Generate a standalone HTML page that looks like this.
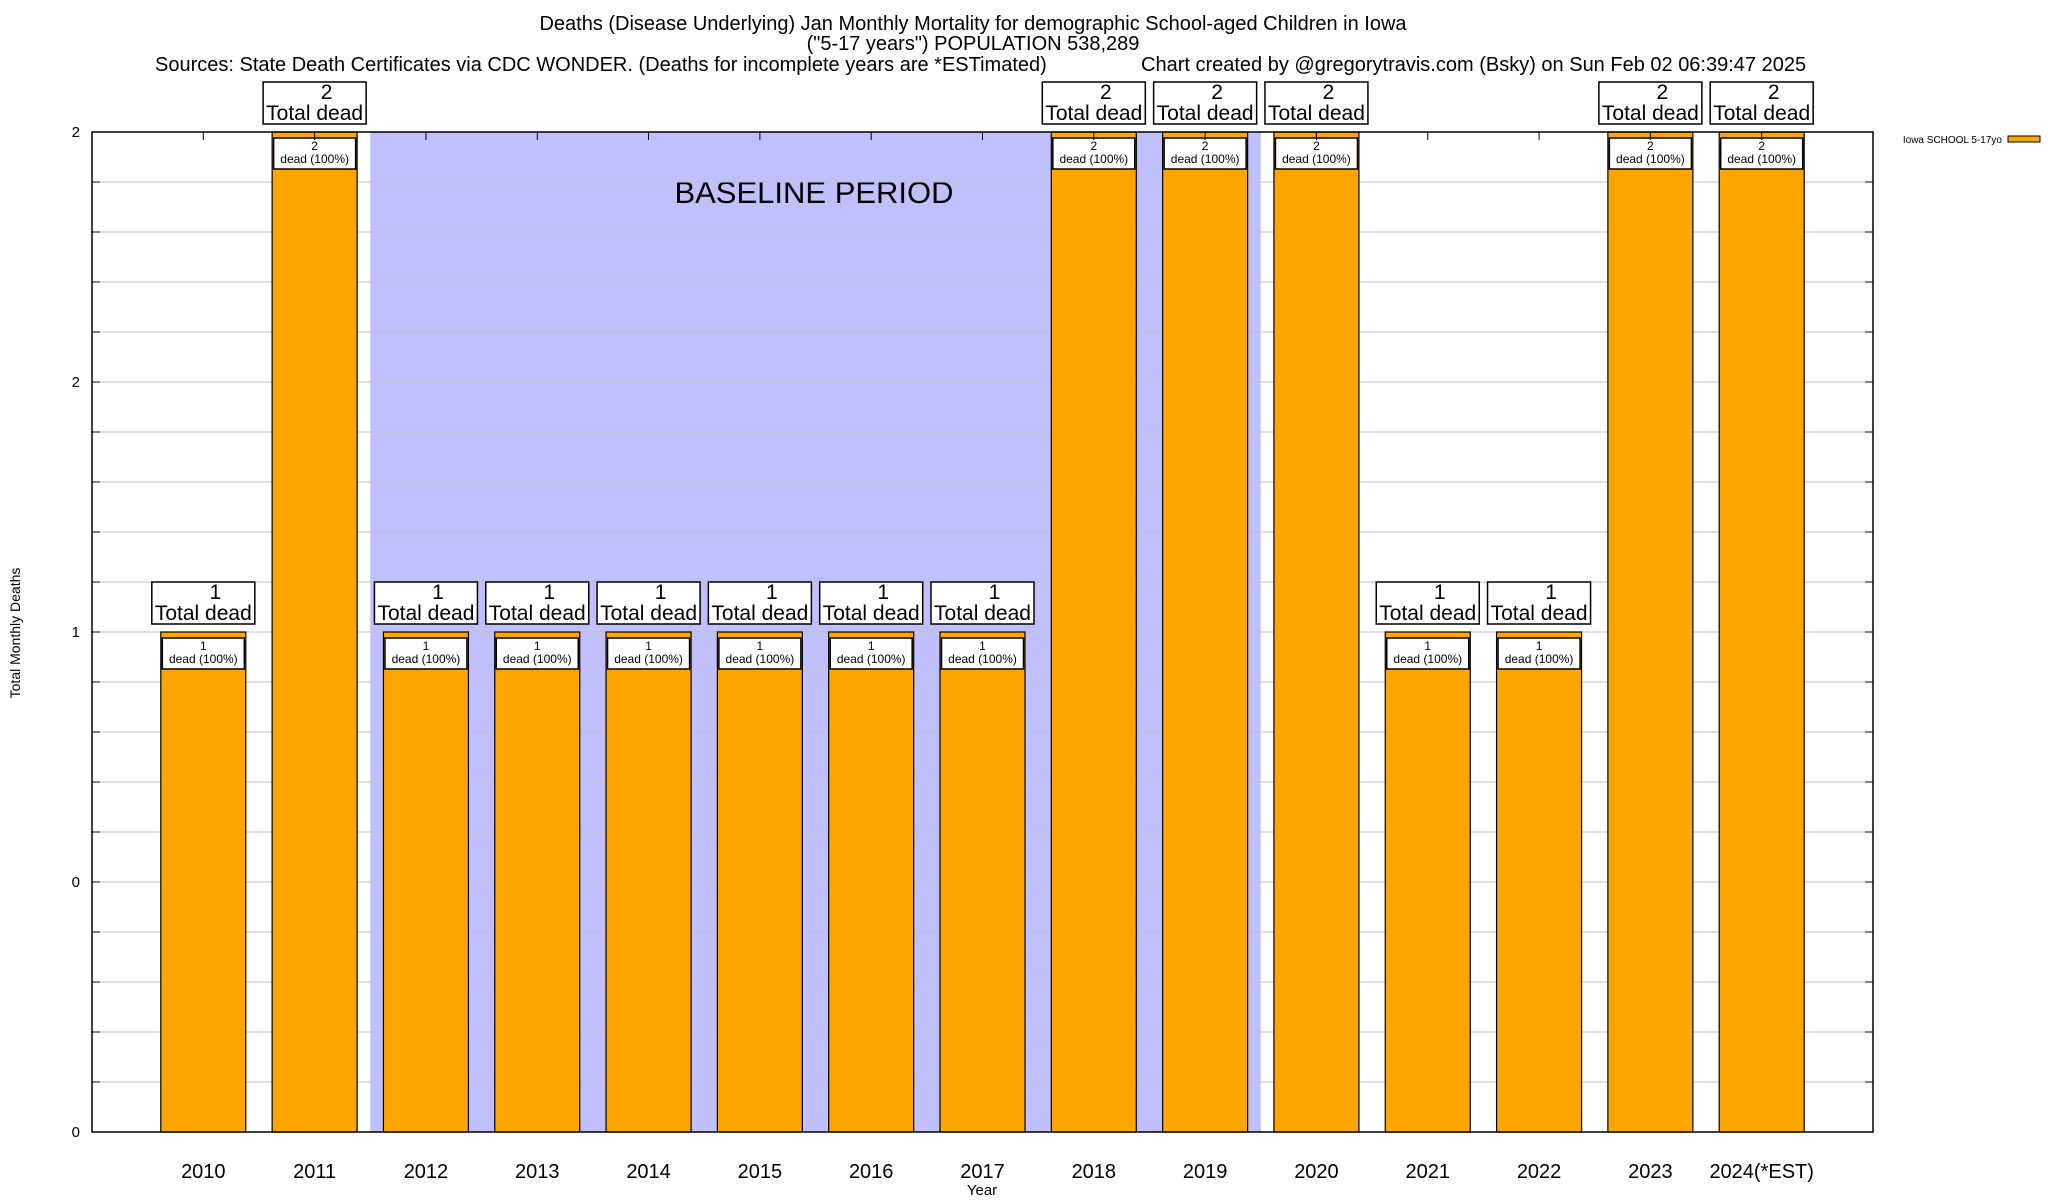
<!DOCTYPE html>
<html><head><meta charset="utf-8"><style>
body{margin:0;background:#fff;}
svg{display:block;font-family:"Liberation Sans",sans-serif;}
</style></head><body>
<svg id="chart" width="2048" height="1200" viewBox="0 0 2048 1200" xmlns="http://www.w3.org/2000/svg">
<text x="973" y="30" font-size="20" text-anchor="middle">Deaths (Disease Underlying) Jan Monthly Mortality for demographic School-aged Children in Iowa</text>
<text x="973" y="50" font-size="20" text-anchor="middle">("5-17 years") POPULATION 538,289</text>
<text x="155" y="71" font-size="20">Sources: State Death Certificates via CDC WONDER. (Deaths for incomplete years are *ESTimated)</text>
<text x="1141" y="71" font-size="20">Chart created by @gregorytravis.com (Bsky) on Sun Feb 02 06:39:47 2025</text>
<g id="plot"></g>
<text transform="translate(20,633) rotate(-90)" font-size="14" text-anchor="middle">Total Monthly Deaths</text>
<text x="982" y="1195" font-size="15" text-anchor="middle">Year</text>
<text x="2002" y="143" font-size="10" text-anchor="end">Iowa SCHOOL 5-17yo</text>
<rect x="2008" y="136" width="32" height="6" fill="#FFA500" stroke="#000" stroke-width="1"/>
</svg>
<script>
const years = ["2010","2011","2012","2013","2014","2015","2016","2017","2018","2019","2020","2021","2022","2023","2024(*EST)"];
const deaths = [1,2,1,1,1,1,1,1,2,2,2,1,1,2,2];
const yTickValues = [0,0.5,1,1.5,2];
const yTickLabels = ["0","0","1","2","2"];
const baselineStart = 2, baselineEnd = 9; // indices of baseline years 2012..2019

const NS="http://www.w3.org/2000/svg";
const L=92,R=1873,T=132,B=1132;
const xMin=-1,xMax=15,yMax=2;
const xs=i=>L+(i-xMin)/(xMax-xMin)*(R-L);
const ys=v=>B-v/yMax*(B-T);
const plot=document.getElementById('plot');
function mk(tag,attrs,parent){const e=document.createElementNS(NS,tag);for(const k in attrs)e.setAttribute(k,attrs[k]);(parent||plot).appendChild(e);return e;}

const band=mk('rect',{x:xs(baselineStart-0.5),y:T,width:xs(baselineEnd+0.5)-xs(baselineStart-0.5),height:B-T,fill:'#c0c0ff'});


const bt=mk('text',{x:814,y:203,'font-size':31,'text-anchor':'middle'});
bt.textContent='BASELINE PERIOD';



for(let k=1;k<20;k++){
  const y=ys(k*0.1);
  const g=mk('line',{x1:L,x2:R,y1:y,y2:y,stroke:'#c0c0c0','stroke-width':1});
  
  
  mk('line',{x1:L,x2:L+8,y1:y,y2:y,stroke:'#000'});
  mk('line',{x1:R-8,x2:R,y1:y,y2:y,stroke:'#000'});
}
yTickValues.forEach((v,i)=>{
  const t=mk('text',{x:L-12,y:ys(v)+5,'font-size':15,'text-anchor':'end'});
  t.textContent=yTickLabels[i];
  
  
});

const bw=85;
years.forEach((yr,i)=>{
  const cx=xs(i),v=deaths[i],top=ys(v);
  const b=mk('rect',{x:cx-bw/2,y:top,width:bw,height:B-top,fill:'#FFA500',stroke:'#000','stroke-width':1.2});
  
  
  const ib=mk('rect',{x:cx-41,y:top+6,width:82,height:31,fill:'#fff',stroke:'#000','stroke-width':1.5});
  
  
  const it=mk('text',{x:cx,y:top+18,'font-size':12,'text-anchor':'middle'});
  
  
  mk('tspan',{x:cx},it).textContent=String(v);
  mk('tspan',{x:cx,dy:13},it).textContent='dead (100%)';
  const ob=mk('rect',{x:cx-51.5,y:top-50,width:103,height:42,fill:'#fff',stroke:'#000','stroke-width':1.5});
  
  
  const ot=mk('text',{x:cx,y:top-33,'font-size':21,'text-anchor':'middle'});
  
  
  mk('tspan',{x:cx+12},ot).textContent=String(v);
  mk('tspan',{x:cx,dy:21},ot).textContent='Total dead';
  const xt=mk('text',{x:cx,y:1178,'font-size':20,'text-anchor':'middle'});
  xt.textContent=yr;
  
  
  mk('line',{x1:cx,x2:cx,y1:T,y2:T+8,stroke:'#000'});
});
const fr=mk('rect',{x:L,y:T,width:R-L,height:B-T,fill:'none',stroke:'#000','stroke-width':1.5});


</script>
</body></html>
